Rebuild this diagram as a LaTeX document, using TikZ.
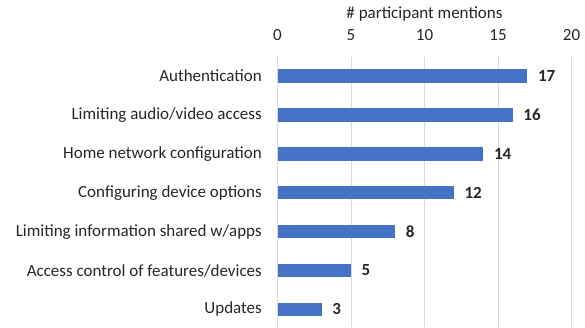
\documentclass[tikz,border=0pt]{standalone}
\usepackage{fontspec}
\setmainfont{Carlito}
\definecolor{barblue}{HTML}{4472C4}
\definecolor{gridgray}{HTML}{D9D9D9}
\definecolor{txt}{HTML}{262626}
\begin{document}
\begin{tikzpicture}[x=1pt,y=-1pt,
  bar/.style={fill=barblue,draw=none},
  grid/.style={draw=gridgray,line width=0.9pt},
  cat/.style={anchor=east,inner sep=0pt,text=txt,font=\fontsize{17}{19}\selectfont},
  val/.style={anchor=west,inner sep=0pt,text=txt,font=\bfseries\fontsize{17}{19}\selectfont},
  tick/.style={anchor=center,inner sep=0pt,text=txt,font=\fontsize{17}{19}\selectfont}]
\useasboundingbox (0,0) rectangle (585,327);
% gridlines
\foreach \v in {0,5,10,15,20} {
  \draw[grid] ({277.5+14.7*\v},57) -- ({277.5+14.7*\v},327);
  \node[tick] (t\v) at ({277.5+14.7*\v},35) {\v};
}
\node[tick] (title) at (424.5,14) {\# participant mentions};
% bars
\foreach \i/\name/\v in {0/Authentication/17,1/Limiting audio\slash video access/16,2/Home network configuration/14,3/Configuring device options/12,4/Limiting information shared w\slash apps/8,5/Access control of features\slash devices/5,6/Updates/3} {
  \pgfmathsetmacro{\yc}{76+38.9*\i}
  \fill[bar] (277.5,{\yc-6.7}) rectangle ({277.5+14.7*\v},{\yc+6.7});
  \node[cat] (c\i) at (262,\yc) {\name};
  \node[val] (v\i) at ({277.5+14.7*\v+10.5},\yc) {\v};
}
\end{tikzpicture}
\end{document}
